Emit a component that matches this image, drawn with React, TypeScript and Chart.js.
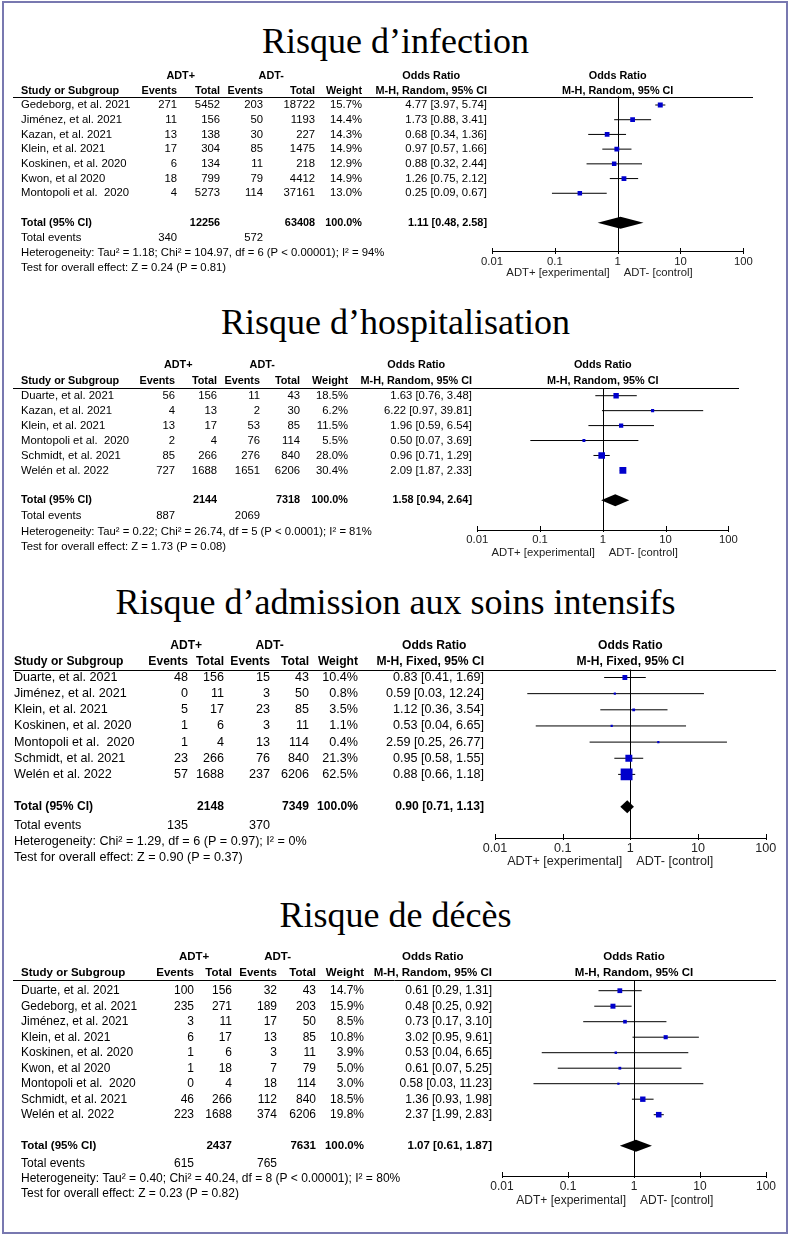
import React, { useEffect, useRef } from 'react';
import { Chart, registerables } from 'chart.js';

Chart.register(...registerables);

// ---------------- DATA ----------------
// Panel 1 : Risque d'infection (M-H, Random)
const infTitle = 'Risque d\u2019infection';
const infStudies = ['Gedeborg, et al. 2021', 'Jiménez, et al. 2021', 'Kazan, et al. 2021', 'Klein, et al. 2021', 'Koskinen, et al. 2020', 'Kwon, et al 2020', 'Montopoli et al.  2020'];
const infEvPlus = [271, 11, 13, 17, 6, 18, 4];
const infTotPlus = [5452, 156, 138, 304, 134, 799, 5273];
const infEvMinus = [203, 50, 30, 85, 11, 79, 114];
const infTotMinus = [18722, 1193, 227, 1475, 218, 4412, 37161];
const infWeights = [15.7, 14.4, 14.3, 14.9, 12.9, 14.9, 13.0];
const infOR = [4.77, 1.73, 0.68, 0.97, 0.88, 1.26, 0.25];
const infLow = [3.97, 0.88, 0.34, 0.57, 0.32, 0.75, 0.09];
const infHigh = [5.74, 3.41, 1.36, 1.66, 2.44, 2.12, 0.67];
const infTotalN = [12256, 63408];
const infTotalEvents = [340, 572];
const infTotalOR = [1.11, 0.48, 2.58];
const infHet = 'Heterogeneity: Tau² = 1.18; Chi² = 104.97, df = 6 (P < 0.00001); I² = 94%';
const infTest = 'Test for overall effect: Z = 0.24 (P = 0.81)';

// Panel 2 : Risque d'hospitalisation (M-H, Random)
const hosTitle = 'Risque d\u2019hospitalisation';
const hosStudies = ['Duarte, et al. 2021', 'Kazan, et al. 2021', 'Klein, et al. 2021', 'Montopoli et al.  2020', 'Schmidt, et al. 2021', 'Welén et al. 2022'];
const hosEvPlus = [56, 4, 13, 2, 85, 727];
const hosTotPlus = [156, 13, 17, 4, 266, 1688];
const hosEvMinus = [11, 2, 53, 76, 276, 1651];
const hosTotMinus = [43, 30, 85, 114, 840, 6206];
const hosWeights = [18.5, 6.2, 11.5, 5.5, 28.0, 30.4];
const hosOR = [1.63, 6.22, 1.96, 0.50, 0.96, 2.09];
const hosLow = [0.76, 0.97, 0.59, 0.07, 0.71, 1.87];
const hosHigh = [3.48, 39.81, 6.54, 3.69, 1.29, 2.33];
const hosTotalN = [2144, 7318];
const hosTotalEvents = [887, 2069];
const hosTotalOR = [1.58, 0.94, 2.64];
const hosHet = 'Heterogeneity: Tau² = 0.22; Chi² = 26.74, df = 5 (P < 0.0001); I² = 81%';
const hosTest = 'Test for overall effect: Z = 1.73 (P = 0.08)';

// Panel 3 : Risque d'admission aux soins intensifs (M-H, Fixed)
const icuTitle = 'Risque d\u2019admission aux soins intensifs';
const icuStudies = ['Duarte, et al. 2021', 'Jiménez, et al. 2021', 'Klein, et al. 2021', 'Koskinen, et al. 2020', 'Montopoli et al.  2020', 'Schmidt, et al. 2021', 'Welén et al. 2022'];
const icuEvPlus = [48, 0, 5, 1, 1, 23, 57];
const icuTotPlus = [156, 11, 17, 6, 4, 266, 1688];
const icuEvMinus = [15, 3, 23, 3, 13, 76, 237];
const icuTotMinus = [43, 50, 85, 11, 114, 840, 6206];
const icuWeights = [10.4, 0.8, 3.5, 1.1, 0.4, 21.3, 62.5];
const icuOR = [0.83, 0.59, 1.12, 0.53, 2.59, 0.95, 0.88];
const icuLow = [0.41, 0.03, 0.36, 0.04, 0.25, 0.58, 0.66];
const icuHigh = [1.69, 12.24, 3.54, 6.65, 26.77, 1.55, 1.18];
const icuTotalN = [2148, 7349];
const icuTotalEvents = [135, 370];
const icuTotalOR = [0.90, 0.71, 1.13];
const icuHet = 'Heterogeneity: Chi² = 1.29, df = 6 (P = 0.97); I² = 0%';
const icuTest = 'Test for overall effect: Z = 0.90 (P = 0.37)';

// Panel 4 : Risque de décès (M-H, Random)
const decTitle = 'Risque de décès';
const decStudies = ['Duarte, et al. 2021', 'Gedeborg, et al. 2021', 'Jiménez, et al. 2021', 'Klein, et al. 2021', 'Koskinen, et al. 2020', 'Kwon, et al 2020', 'Montopoli et al.  2020', 'Schmidt, et al. 2021', 'Welén et al. 2022'];
const decEvPlus = [100, 235, 3, 6, 1, 1, 0, 46, 223];
const decTotPlus = [156, 271, 11, 17, 6, 18, 4, 266, 1688];
const decEvMinus = [32, 189, 17, 13, 3, 7, 18, 112, 374];
const decTotMinus = [43, 203, 50, 85, 11, 79, 114, 840, 6206];
const decWeights = [14.7, 15.9, 8.5, 10.8, 3.9, 5.0, 3.0, 18.5, 19.8];
const decOR = [0.61, 0.48, 0.73, 3.02, 0.53, 0.61, 0.58, 1.36, 2.37];
const decLow = [0.29, 0.25, 0.17, 0.95, 0.04, 0.07, 0.03, 0.93, 1.99];
const decHigh = [1.31, 0.92, 3.10, 9.61, 6.65, 5.25, 11.23, 1.98, 2.83];
const decTotalN = [2437, 7631];
const decTotalEvents = [615, 765];
const decTotalOR = [1.07, 0.61, 1.87];
const decHet = 'Heterogeneity: Tau² = 0.40; Chi² = 40.24, df = 8 (P < 0.00001); I² = 80%';
const decTest = 'Test for overall effect: Z = 0.23 (P = 0.82)';

// shared labels
const tickValues = [0.01, 0.1, 1, 10, 100];
const tickLabels = ['0.01', '0.1', '1', '10', '100'];
const groupLabels = ['ADT+', 'ADT-'];
const colHeaders = ['Events', 'Total', 'Events', 'Total', 'Weight'];
const favoursLabels = ['ADT+ [experimental]', 'ADT- [control]'];
const randomMethod = 'M-H, Random, 95% CI';
const fixedMethod = 'M-H, Fixed, 95% CI';

// ---------------- tables built from the arrays ----------------
const panels = [
  { title: infTitle, method: randomMethod, studies: infStudies, evP: infEvPlus, totP: infTotPlus, evM: infEvMinus, totM: infTotMinus, w: infWeights, or: infOR, lo: infLow, hi: infHigh, totN: infTotalN, totEv: infTotalEvents, totOR: infTotalOR, het: infHet, test: infTest },
  { title: hosTitle, method: randomMethod, studies: hosStudies, evP: hosEvPlus, totP: hosTotPlus, evM: hosEvMinus, totM: hosTotMinus, w: hosWeights, or: hosOR, lo: hosLow, hi: hosHigh, totN: hosTotalN, totEv: hosTotalEvents, totOR: hosTotalOR, het: hosHet, test: hosTest },
  { title: icuTitle, method: fixedMethod, studies: icuStudies, evP: icuEvPlus, totP: icuTotPlus, evM: icuEvMinus, totM: icuTotMinus, w: icuWeights, or: icuOR, lo: icuLow, hi: icuHigh, totN: icuTotalN, totEv: icuTotalEvents, totOR: icuTotalOR, het: icuHet, test: icuTest },
  { title: decTitle, method: randomMethod, studies: decStudies, evP: decEvPlus, totP: decTotPlus, evM: decEvMinus, totM: decTotMinus, w: decWeights, or: decOR, lo: decLow, hi: decHigh, totN: decTotalN, totEv: decTotalEvents, totOR: decTotalOR, het: decHet, test: decTest },
];

// ---------------- LAYOUT (page coordinates) ----------------
const layouts = [
  { top: 0, height: 285, titleBase: 53, h1: 76, h2: 90.8, lineY: 96.5, row0: 105, totalY: 222.7, axisY: 251.7, subY: 273.3, x001: 492, x100: 743.3, lineX0: 13, lineX1: 753, nameX: 21, cols: [177, 220, 263, 315, 362, 487], fs: 11.3, k: 1.25, foot: [15.6, 30, 45], orHdrShift: 0 },
  { top: 285, height: 280, titleBase: 334, h1: 365, h2: 380.7, lineY: 388, row0: 395.7, totalY: 500.3, axisY: 530, subY: 552.7, x001: 477.3, x100: 728.3, lineX0: 13, lineX1: 739, nameX: 21, cols: [175, 217, 260, 300, 348, 472], fs: 11.3, k: 1.25, foot: [16, 31.7, 46.7], orHdrShift: 0 },
  { top: 565, height: 307, titleBase: 614, h1: 646, h2: 661.7, lineY: 669.5, row0: 677.5, totalY: 806.7, axisY: 838.3, subY: 861.7, x001: 495, x100: 765.7, lineX0: 13, lineX1: 776, nameX: 14, cols: [188, 224, 270, 309, 358, 484], fs: 12.6, k: 1.5, foot: [18.6, 34.6, 50.6], orHdrShift: 4 },
  { top: 872, height: 365, titleBase: 927, h1: 957.3, h2: 972.7, lineY: 980, row0: 990.7, totalY: 1145.7, axisY: 1176, subY: 1200.7, x001: 502, x100: 766, lineX0: 13, lineX1: 776, nameX: 21, cols: [194, 232, 277, 316, 364, 492], fs: 12, k: 1.25, foot: [17.6, 33.3, 48.3], orHdrShift: 0 },
];

const SANS = '"Liberation Sans", Arial, Helvetica, sans-serif';
const fmtOR = (a: number, b: number, c: number) => `${a.toFixed(2)} [${b.toFixed(2)}, ${c.toFixed(2)}]`;

function ForestPanel({ d, L }: { d: any; L: any }) {
  const ref = useRef<HTMLCanvasElement>(null);
  useEffect(() => {
    const canvas = ref.current;
    if (!canvas) return;
    const n = d.studies.length;
    const axisH = 20;
    const loc = (y: number) => y - L.top;
    const step = (L.totalY - L.row0) / (n + 1);
    const yMin = (L.lineY - L.row0) / step;
    const yMax = (L.axisY - L.row0) / step;
    const sq = d.w.map((w: number) => Math.max(2.2, L.k * Math.sqrt(w)) / Math.SQRT2);

    const datasets: any[] = [
      {
        data: d.or.map((v: number, i: number) => ({ x: v, y: i })),
        pointStyle: 'rect',
        pointRadius: sq,
        pointHoverRadius: sq,
        backgroundColor: '#0000cc',
        borderColor: '#0000cc',
        borderWidth: 0,
        showLine: false,
      },
    ];
    d.lo.forEach((lo: number, i: number) => {
      datasets.push({
        data: [{ x: lo, y: i }, { x: d.hi[i], y: i }],
        showLine: true,
        borderColor: '#000',
        borderWidth: 1,
        pointRadius: 0,
        fill: false,
      });
    });

    const font = (bold: boolean) => (bold ? `bold ${(L.fs * 0.96).toFixed(2)}px ${SANS}` : `${L.fs}px ${SANS}`);

    const plugin = {
      id: 'forestExtras',
      beforeDatasetsDraw(chart: any) {
        const { ctx, chartArea: ca, scales } = chart;
        const x1 = Math.round(scales.x.getPixelForValue(1)) + 0.5;
        ctx.save();
        ctx.strokeStyle = '#000';
        ctx.lineWidth = 1;
        ctx.beginPath();
        ctx.moveTo(x1, ca.top);
        ctx.lineTo(x1, ca.bottom);
        ctx.stroke();
        ctx.beginPath();
        ctx.moveTo(L.lineX0, Math.round(ca.top) + 0.5);
        ctx.lineTo(L.lineX1, Math.round(ca.top) + 0.5);
        ctx.stroke();
        // decade tick marks crossing the axis
        const ay = Math.round(ca.bottom);
        tickValues.forEach((v) => {
          const px = Math.round(scales.x.getPixelForValue(v)) + 0.5;
          ctx.beginPath();
          ctx.moveTo(px, ay - 4);
          ctx.lineTo(px, ay + 2);
          ctx.stroke();
        });
        ctx.restore();
      },
      afterDatasetsDraw(chart: any) {
        const { ctx, scales } = chart;
        const xs = scales.x;
        const ys = scales.y;
        // summary diamond
        const yT = ys.getPixelForValue(n + 1);
        const [est, lo, hi] = d.totOR;
        const hh = L.k > 1.3 ? 6.5 : 6;
        ctx.save();
        ctx.fillStyle = '#000';
        ctx.beginPath();
        ctx.moveTo(xs.getPixelForValue(lo), yT);
        ctx.lineTo(xs.getPixelForValue(est), yT - hh);
        ctx.lineTo(xs.getPixelForValue(hi), yT);
        ctx.lineTo(xs.getPixelForValue(est), yT + hh);
        ctx.closePath();
        ctx.fill();
        ctx.restore();
      },
      afterDraw(chart: any) {
        const { ctx, scales } = chart;
        const xs = scales.x;
        const ys = scales.y;
        const x1 = xs.getPixelForValue(1);
        const [cE1, cT1, cE2, cT2, cW, cOR] = L.cols;
        ctx.save();
        ctx.textBaseline = 'middle';
        ctx.fillStyle = '#000';
        const t = (s: string, x: number, y: number, align: CanvasTextAlign, bold = false) => {
          ctx.font = font(bold);
          ctx.textAlign = align;
          ctx.fillText(s, x, y);
        };
        ctx.font = font(true);
        const wEv = ctx.measureText(colHeaders[0]).width;
        const wMeth = ctx.measureText(d.method).width;
        // header row 1
        const h1 = loc(L.h1);
        const h2 = loc(L.h2);
        t(groupLabels[0], (cE1 - wEv + cT1) / 2, h1, 'center', true);
        t(groupLabels[1], (cE2 - wEv + cT2) / 2, h1, 'center', true);
        t('Odds Ratio', cOR - wMeth / 2 + L.orHdrShift, h1, 'center', true);
        t('Odds Ratio', x1, h1, 'center', true);
        // header row 2
        t('Study or Subgroup', L.nameX, h2, 'left', true);
        [cE1, cT1, cE2, cT2, cW].forEach((cx: number, i: number) => t(colHeaders[i], cx, h2, 'right', true));
        t(d.method, cOR, h2, 'right', true);
        t(d.method, x1, h2, 'center', true);
        // study rows
        d.studies.forEach((s: string, i: number) => {
          const y = ys.getPixelForValue(i);
          t(s, L.nameX, y, 'left');
          t(String(d.evP[i]), cE1, y, 'right');
          t(String(d.totP[i]), cT1, y, 'right');
          t(String(d.evM[i]), cE2, y, 'right');
          t(String(d.totM[i]), cT2, y, 'right');
          t(`${d.w[i].toFixed(1)}%`, cW, y, 'right');
          t(fmtOR(d.or[i], d.lo[i], d.hi[i]), cOR, y, 'right');
        });
        // total row
        const yT = ys.getPixelForValue(n + 1);
        t('Total (95% CI)', L.nameX, yT, 'left', true);
        t(String(d.totN[0]), cT1, yT, 'right', true);
        t(String(d.totN[1]), cT2, yT, 'right', true);
        t('100.0%', cW, yT, 'right', true);
        t(fmtOR(d.totOR[0], d.totOR[1], d.totOR[2]), cOR, yT, 'right', true);
        // footer
        t('Total events', L.nameX, yT + L.foot[0], 'left');
        t(String(d.totEv[0]), cE1, yT + L.foot[0], 'right');
        t(String(d.totEv[1]), cE2, yT + L.foot[0], 'right');
        t(d.het, L.nameX, yT + L.foot[1], 'left');
        t(d.test, L.nameX, yT + L.foot[2], 'left');
        // favours labels
        ctx.fillStyle = '#222';
        const sy = loc(L.subY);
        t(favoursLabels[0], x1 - 8, sy, 'right');
        t(favoursLabels[1], x1 + 6, sy, 'left');
        ctx.restore();
      },
    };

    const chart = new Chart(canvas, {
      type: 'scatter',
      data: { datasets },
      options: {
        animation: false,
        responsive: false,
        maintainAspectRatio: false,
        devicePixelRatio: 1,
        events: [],
        layout: {
          padding: {
            left: L.x001,
            right: 791 - L.x100,
            top: loc(L.lineY),
            bottom: L.height - loc(L.axisY) - axisH,
          },
        },
        plugins: {
          legend: { display: false },
          tooltip: { enabled: false },
          title: { display: false },
        },
        scales: {
          x: {
            type: 'logarithmic',
            position: 'bottom',
            min: 0.01,
            max: 100,
            afterBuildTicks: (s: any) => {
              s.ticks = tickValues.map((v) => ({ value: v }));
            },
            afterFit: (s: any) => {
              s.height = axisH;
            },
            grid: { display: false, drawTicks: false },
            border: { display: true, color: '#000', width: 1 },
            ticks: {
              autoSkip: false,
              maxRotation: 0,
              padding: 3,
              color: '#222',
              font: { family: SANS, size: L.fs },
              callback: (_v: any, i: number) => tickLabels[i],
            },
          },
          y: { type: 'linear', display: false, reverse: true, min: yMin, max: yMax },
        },
      },
      plugins: [plugin],
    } as any);
    return () => chart.destroy();
  }, [d, L]);

  return (
    <>
      <div
        style={{
          position: 'absolute',
          left: 0,
          top: L.titleBase - 30,
          width: 791,
          textAlign: 'center',
          font: '36px "Liberation Serif", "Times New Roman", serif',
          lineHeight: '36px',
          color: '#000',
          whiteSpace: 'nowrap',
        }}
      >
        {d.title}
      </div>
      <canvas
        ref={ref}
        width={791}
        height={L.height}
        style={{ position: 'absolute', left: 0, top: L.top, width: 791, height: L.height, display: 'block' }}
      />
    </>
  );
}

export default function App() {
  useEffect(() => {
    document.body.style.margin = '0';
  }, []);
  return (
    <div style={{ position: 'absolute', left: 0, top: 0, width: 791, height: 1237, background: '#fff', overflow: 'hidden' }}>
      <div style={{ position: 'absolute', left: 2, top: 1, width: 782, height: 1229, border: '2px solid #7878b0' }} />
      {panels.map((p, i) => (
        <ForestPanel key={i} d={p} L={layouts[i]} />
      ))}
    </div>
  );
}
